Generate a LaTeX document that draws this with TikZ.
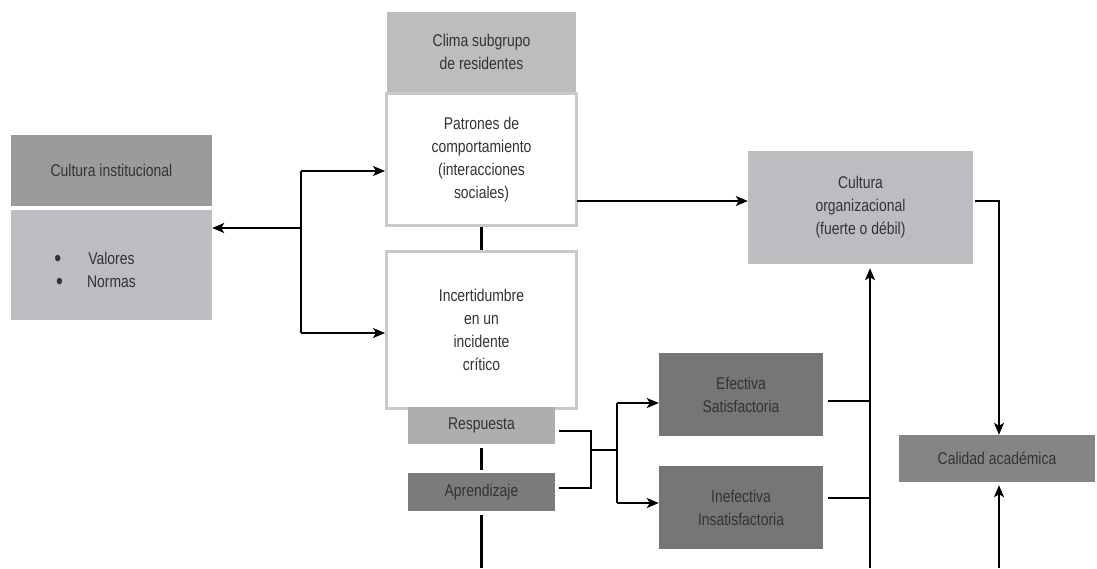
\documentclass[tikz,border=0pt]{standalone}
\usepackage{fontspec}
\setmainfont{Liberation Sans}[FakeStretch=0.82]
\usetikzlibrary{arrows.meta}
\definecolor{txt}{HTML}{333333}
\definecolor{gdark}{HTML}{9B9B9C}
\definecolor{glight}{HTML}{BCBDC0}
\definecolor{gclima}{HTML}{BDBDBD}
\definecolor{gborder}{HTML}{C9C9C9}
\definecolor{gresp}{HTML}{AEAEB0}
\definecolor{gapr}{HTML}{7C7C7E}
\definecolor{gef}{HTML}{767678}
\definecolor{gcal}{HTML}{858587}
\newcommand{\bigbul}[1]{\llap{\raisebox{-2.4pt}{\fontsize{24}{23}\selectfont\textbullet}\hspace*{#1}}}
\tikzset{
  box/.style={rectangle, inner sep=0pt, align=center, text=txt,
    font=\fontsize{17}{23}\selectfont},
  outlined/.style={box, draw=gborder, line width=3pt, fill=white},
  conn/.style={line width=1.6pt, black},
  seg/.style={line width=3pt, black},
  arr/.style={conn, -{Stealth[length=12pt, width=10pt, inset=3pt]}},
}
\begin{document}
\begin{tikzpicture}[x=1pt, y=-1pt]
\useasboundingbox (0,0) rectangle (1097,568);
% boxes
\node[box, fill=gdark, minimum width=201pt, minimum height=71pt] (ci) at (111.5,170.5) {Cultura institucional};
\node[box, fill=glight, minimum width=201pt, minimum height=110pt] (vn) at (111.5,265)
  {\raisebox{-6pt}[\height][\depth]{\begin{tabular}{@{}c@{}}\bigbul{27pt}Valores\\\bigbul{24pt}Normas\end{tabular}}};
\node[box, fill=gclima, minimum width=189pt, minimum height=80pt] (clima) at (481.5,52) {Clima subgrupo\\de residentes};
\node[outlined, minimum width=190pt, minimum height=132pt] (pat) at (481.5,159.5) {Patrones de\\comportamiento\\(interacciones\\sociales)};
\node[outlined, minimum width=190pt, minimum height=157pt] (inc) at (481.5,330) {Incertidumbre\\en un\\incidente\\crítico};
\node[box, fill=gresp, minimum width=147pt, minimum height=37pt] (resp) at (481.5,425.5) {Respuesta};
\node[box, fill=gapr, minimum width=147pt, minimum height=38pt] (apr) at (481.5,492) {Aprendizaje};
\node[box, fill=gef, minimum width=164pt, minimum height=83pt] (ef) at (741,394.5) {Efectiva\\Satisfactoria};
\node[box, fill=gef, minimum width=164pt, minimum height=83pt] (inef) at (741,507.5) {Inefectiva\\Insatisfactoria};
\node[box, fill=glight, minimum width=225pt, minimum height=113pt] (co) at (860.5,207.5) {Cultura\\organizacional\\(fuerte o débil)};
\node[box, fill=gcal, minimum width=196pt, minimum height=47pt] (cal) at (997,458.5) {Calidad académica};
% coordinates
\coordinate (bot) at (0,568);
\coordinate (jm) at (301,228);
\coordinate (jt) at (301,171);
\coordinate (jb) at (301,333);
\coordinate (p1) at (577,201);
\coordinate (r1) at (559,431);
\coordinate (a1) at (559,488);
\coordinate (b1) at (591,431);
\coordinate (b2) at (591,488);
\coordinate (b3) at (591,450);
\coordinate (f0) at (617,450);
\coordinate (f1) at (617,403);
\coordinate (f2) at (617,503);
\coordinate (e1) at (828,401);
\coordinate (e2) at (828,498);
\coordinate (v1) at (870,401);
\coordinate (v2) at (870,498);
\coordinate (vb) at (870,568);
\coordinate (c1) at (975,201);
\coordinate (c2) at (999,201);
\coordinate (cb) at (999,568);
% connectors
\draw[conn] (jt) -- (jb);
\draw[arr] (jm) -- (jm -| vn.east);
\draw[arr] (jt) -- (jt -| pat.west);
\draw[arr] (jb) -- (jb -| inc.west);
\draw[seg] (pat.south) -- (inc.north);
\draw[arr] (p1) -- (p1 -| co.west);
\draw[seg] ([yshift=-4pt]resp.south) -- ([yshift=3pt]apr.north);
\draw[seg] ([yshift=-4pt]apr.south) -- (apr.south |- bot);
\draw[conn] (r1) -- (b1) -- (b2) -- (a1);
\draw[conn] (b3) -- (f0);
\draw[conn] (f1) -- (f2);
\draw[arr] (f1) -- (f1 -| ef.west);
\draw[arr] (f2) -- (f2 -| inef.west);
\draw[conn] (e1) -- (v1);
\draw[conn] (e2) -- (v2);
\draw[arr, shorten >=4pt] (vb) -- (vb |- co.south);
\draw[arr] (c1) -- (c2) -- (c2 |- cal.north);
\draw[arr, shorten >=3pt] (cb) -- (cb |- cal.south);
\end{tikzpicture}
\end{document}
